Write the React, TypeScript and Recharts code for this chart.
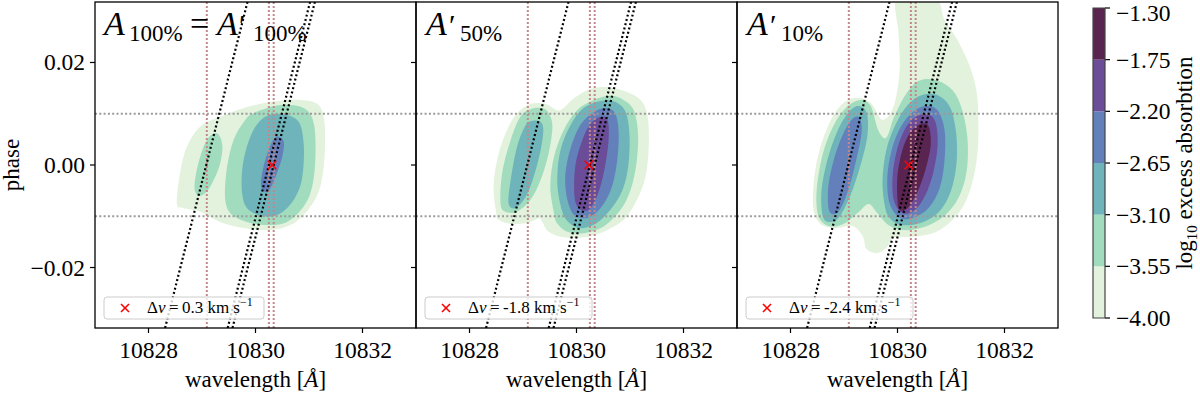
import React from 'react';
import { ScatterChart, Scatter, XAxis, YAxis } from 'recharts';

// colour levels of log10 excess absorption
const levels = [-4.0, -3.55, -3.1, -2.65, -2.2, -1.75, -1.3];
const levelColors = ['#e2f2dd', '#a2dcbf', '#6fb4bb', '#6480bb', '#6a4c98', '#5a2450'];

const xTicks = [10828, 10830, 10832];
const yTicks = [-0.02, 0, 0.02];
const X_DOMAIN: [number, number] = [10827, 10833];
const Y_DOMAIN: [number, number] = [-0.0318, 0.0318];

// He triplet rest wavelengths, transit phase limits, planet tracks
const restLines = [10829.09, 10830.25, 10830.34];
const phaseLines = [-0.01, 0.01];
const trackLow = [10828.31, 10829.48, 10829.57];
const trackHigh = [10829.85, 10831.02, 10831.11];

// per panel
const panelTitles = ['100%', '50%', '10%'];
const markerX = [10830.31, 10830.23, 10830.21];
const deltaV = ['0.3', '-1.8', '-2.4'];

type Pt = [number, number];

// ---- contours (wavelength, phase) ----
const p1Pale: Pt[] = [
  [10828.53, -0.0075], [10828.59, -0.0016], [10828.72, 0.0036], [10828.97, 0.0075], [10829.34, 0.0094],
  [10829.78, 0.0111], [10830.28, 0.0123], [10830.84, 0.0127], [10831.18, 0.0117], [10831.29, 0.0081],
  [10831.29, 0.0016], [10831.21, -0.0042], [10831.03, -0.0081], [10830.71, -0.0114], [10830.28, -0.0127],
  [10829.78, -0.0123], [10829.34, -0.0111], [10828.97, -0.0091], [10828.65, -0.0084],
];
const p1Mint: Pt[] = [
  [10829.78, 0.0084], [10829.96, 0.0101], [10830.46, 0.0117], [10830.9, 0.0111], [10831.09, 0.0081],
  [10831.12, 0.0016], [10831.06, -0.0042], [10830.9, -0.0081], [10830.59, -0.0111], [10830.22, -0.0117],
  [10829.84, -0.0111], [10829.53, -0.0094], [10829.43, -0.0062], [10829.47, -0.0003], [10829.59, 0.0049],
];
const p1MintSide: Pt[] = [
  [10829.28, 0.0062], [10829.38, 0.0039], [10829.34, 0.0003], [10829.22, -0.0029], [10829.09, -0.0052],
  [10828.93, -0.006], [10828.86, -0.0042], [10828.93, 0.0003], [10829.09, 0.0049],
];
const p1Teal: Pt[] = [
  [10830.0, 0.0075], [10830.22, 0.0096], [10830.53, 0.0099], [10830.81, 0.0084], [10830.9, 0.0042],
  [10830.89, -0.001], [10830.81, -0.0049], [10830.62, -0.0081], [10830.37, -0.0099], [10830.09, -0.0099],
  [10829.84, -0.0084], [10829.75, -0.0055], [10829.75, -0.001], [10829.84, 0.0036],
];
const p1Blue: Pt[] = [
  [10830.43, 0.0055], [10830.53, 0.0045], [10830.5, 0.0016], [10830.4, -0.0016], [10830.28, -0.0045],
  [10830.17, -0.0052], [10830.1, -0.0039], [10830.15, -0.0003], [10830.26, 0.0033], [10830.35, 0.0052],
];

const p2Pale: Pt[] = [
  [10828.5, -0.0094], [10828.45, -0.0042], [10828.53, 0.0016], [10828.7, 0.0068], [10828.89, 0.0101],
  [10829.14, 0.0119], [10829.42, 0.0119], [10829.64, 0.0107], [10829.76, 0.0111], [10829.95, 0.013],
  [10830.2, 0.0146], [10830.51, 0.0152], [10830.88, 0.0145], [10831.2, 0.0127], [10831.33, 0.0094],
  [10831.35, 0.0036], [10831.29, -0.0023], [10831.13, -0.0068], [10830.88, -0.0107], [10830.51, -0.013],
  [10830.14, -0.0141], [10829.76, -0.0141], [10829.48, -0.013], [10829.36, -0.0111], [10829.3, -0.0104],
  [10829.08, -0.0113], [10828.77, -0.0115], [10828.55, -0.0107],
];
const p2MintSide: Pt[] = [
  [10828.58, -0.0075], [10828.61, -0.0016], [10828.77, 0.0049], [10828.95, 0.0094], [10829.14, 0.0109],
  [10829.36, 0.0111], [10829.48, 0.0101], [10829.55, 0.0075], [10829.48, 0.0023], [10829.33, -0.0029],
  [10829.14, -0.0068], [10828.89, -0.0091], [10828.67, -0.0091],
];
const p2TealSide: Pt[] = [
  [10828.73, -0.0075], [10828.77, -0.0029], [10828.89, 0.0036], [10829.05, 0.0078], [10829.17, 0.0086],
  [10829.33, 0.0084], [10829.38, 0.0068], [10829.33, 0.0029], [10829.2, -0.0023], [10829.05, -0.0062],
  [10828.86, -0.0084],
];
const p2Mint: Pt[] = [
  [10829.58, -0.0094], [10829.51, -0.0042], [10829.58, 0.0016], [10829.76, 0.0068], [10830.01, 0.0107],
  [10830.32, 0.0127], [10830.64, 0.0135], [10830.88, 0.0127], [10831.07, 0.0107], [10831.15, 0.0062],
  [10831.12, 0.0003], [10831.01, -0.0049], [10830.82, -0.0088], [10830.51, -0.012], [10830.14, -0.0133],
  [10829.83, -0.013], [10829.64, -0.0114],
];
const p2Teal: Pt[] = [
  [10829.7, -0.0078], [10829.64, -0.0029], [10829.7, 0.0029], [10829.89, 0.0078], [10830.13, 0.0111],
  [10830.45, 0.0125], [10830.73, 0.0123], [10830.92, 0.0103], [10830.99, 0.0059], [10830.97, 0.0],
  [10830.86, -0.0049], [10830.63, -0.0088], [10830.35, -0.0115], [10830.04, -0.0123], [10829.81, -0.0107],
];
const p2Blue: Pt[] = [
  [10829.83, -0.0068], [10829.79, -0.002], [10829.89, 0.0033], [10830.07, 0.0078], [10830.32, 0.0103],
  [10830.56, 0.0111], [10830.73, 0.0099], [10830.79, 0.0059], [10830.75, 0.0], [10830.64, -0.0049],
  [10830.45, -0.0084], [10830.21, -0.0103], [10829.96, -0.0098],
];
const p2Purple: Pt[] = [
  [10829.96, -0.0059], [10829.98, 0.0], [10830.11, 0.0049], [10830.26, 0.008], [10830.45, 0.0094],
  [10830.58, 0.0088], [10830.6, 0.0049], [10830.52, -0.001], [10830.39, -0.0059], [10830.22, -0.0088],
  [10830.04, -0.0084],
];

const p3Pale: Pt[] = [
  [10830.0, 0.033], [10830.69, 0.033], [10830.88, 0.0283], [10831.12, 0.0244], [10831.35, 0.0193],
  [10831.48, 0.0142], [10831.51, 0.0088], [10831.5, 0.0029], [10831.42, -0.0025], [10831.27, -0.0072],
  [10831.03, -0.0107], [10830.71, -0.0131], [10830.28, -0.014], [10829.93, -0.0142], [10829.79, -0.0162],
  [10829.61, -0.0172], [10829.42, -0.0164], [10829.35, -0.0139], [10829.16, -0.0119], [10828.84, -0.0123],
  [10828.56, -0.0115], [10828.43, -0.0088], [10828.43, -0.0039], [10828.52, 0.002], [10828.71, 0.0078],
  [10828.93, 0.0115], [10829.21, 0.0131], [10829.5, 0.0121], [10829.72, 0.0088], [10829.93, 0.0115],
  [10830.04, 0.0185], [10830.02, 0.0254],
];
const p3Mint: Pt[] = [
  [10830.15, 0.0137], [10830.39, 0.0164], [10830.71, 0.0166], [10831.03, 0.0146], [10831.21, 0.0107],
  [10831.31, 0.0049], [10831.29, -0.0014], [10831.14, -0.0064], [10830.88, -0.0099], [10830.5, -0.0121],
  [10830.11, -0.0127], [10829.83, -0.0117], [10829.61, -0.0092], [10829.46, -0.0076], [10829.27, -0.0092],
  [10828.99, -0.0115], [10828.71, -0.0119], [10828.52, -0.0099], [10828.49, -0.0049], [10828.6, 0.002],
  [10828.8, 0.0076], [10829.05, 0.0113], [10829.31, 0.0127], [10829.5, 0.0115], [10829.64, 0.0068],
  [10829.79, 0.0053], [10829.93, 0.0092],
];
const p3TealSide: Pt[] = [
  [10828.6, -0.0098], [10828.58, -0.0049], [10828.69, 0.001], [10828.86, 0.0062], [10829.05, 0.0098],
  [10829.25, 0.0115], [10829.42, 0.0103], [10829.44, 0.0059], [10829.31, 0.0], [10829.12, -0.0059],
  [10828.9, -0.0103], [10828.71, -0.0111],
];
const p3BlueSide: Pt[] = [
  [10828.71, -0.0084], [10828.71, -0.0039], [10828.82, 0.0014], [10828.99, 0.0062], [10829.16, 0.009],
  [10829.29, 0.0092], [10829.33, 0.0064], [10829.23, 0.001], [10829.08, -0.0049], [10828.92, -0.0088],
  [10828.79, -0.0096],
];
const p3Teal: Pt[] = [
  [10829.76, -0.0078], [10829.72, -0.0029], [10829.79, 0.0029], [10829.96, 0.0078], [10830.19, 0.0117],
  [10830.47, 0.0137], [10830.77, 0.0135], [10830.99, 0.0111], [10831.1, 0.0059], [10831.1, 0.0],
  [10830.99, -0.0053], [10830.77, -0.0092], [10830.43, -0.0113], [10830.06, -0.0117], [10829.85, -0.0103],
];
const p3Blue: Pt[] = [
  [10829.85, -0.0074], [10829.81, -0.0025], [10829.89, 0.0029], [10830.06, 0.0074], [10830.28, 0.0103],
  [10830.52, 0.0115], [10830.75, 0.0107], [10830.88, 0.0068], [10830.88, 0.001], [10830.79, -0.0045],
  [10830.58, -0.0084], [10830.3, -0.0103], [10830.04, -0.0103],
];
const p3Purple: Pt[] = [
  [10829.93, -0.0068], [10829.91, -0.002], [10830.0, 0.0033], [10830.15, 0.0072], [10830.34, 0.0094],
  [10830.56, 0.0099], [10830.71, 0.0084], [10830.75, 0.0039], [10830.67, -0.0014], [10830.52, -0.0059],
  [10830.32, -0.0088], [10830.09, -0.0094],
];
const p3Dark: Pt[] = [
  [10830.0, -0.0068], [10830.0, -0.002], [10830.09, 0.0029], [10830.24, 0.0064], [10830.43, 0.008],
  [10830.58, 0.0076], [10830.62, 0.0039], [10830.52, -0.001], [10830.37, -0.0053], [10830.19, -0.0084],
  [10830.04, -0.0088],
];

// [level index, polygon]
const panelContours: [number, Pt[]][][] = [
  [[0, p1Pale], [1, p1Mint], [1, p1MintSide], [2, p1Teal], [3, p1Blue]],
  [[0, p2Pale], [1, p2MintSide], [2, p2TealSide], [1, p2Mint], [2, p2Teal], [3, p2Blue], [4, p2Purple]],
  [[0, p3Pale], [1, p3Mint], [2, p3TealSide], [3, p3BlueSide], [2, p3Teal], [3, p3Blue], [4, p3Purple], [5, p3Dark]],
];

const PLOT_W = 321;
const panelLefts = [95, 416, 737];
const FONT = "Liberation Serif, DejaVu Serif, serif";
const TICK_FS = 23.5;

// closed catmull-rom through the scaled points
function smoothClosed(pts: { x: number; y: number }[]) {
  const n = pts.length;
  if (!n) return '';
  let d = `M${pts[0].x},${pts[0].y}`;
  for (let i = 0; i < n; i++) {
    const p0 = pts[(i - 1 + n) % n];
    const p1 = pts[i];
    const p2 = pts[(i + 1) % n];
    const p3 = pts[(i + 2) % n];
    const c1x = p1.x + (p2.x - p0.x) / 6;
    const c1y = p1.y + (p2.y - p0.y) / 6;
    const c2x = p2.x - (p3.x - p1.x) / 6;
    const c2y = p2.y - (p3.y - p1.y) / 6;
    d += `C${c1x},${c1y} ${c2x},${c2y} ${p2.x},${p2.y}`;
  }
  return d + 'Z';
}

function polygon(pts: { x: number; y: number }[]) {
  return pts.map((p, i) => `${i ? 'L' : 'M'}${p.x},${p.y}`).join('') + 'Z';
}

const noDot = () => <g />;

const RedCross = (p: any) => {
  const s = 4.2;
  return (
    <g>
      <line x1={p.cx - s} y1={p.cy - s} x2={p.cx + s} y2={p.cy + s} stroke="#ff0000" strokeWidth={1.6} />
      <line x1={p.cx - s} y1={p.cy + s} x2={p.cx + s} y2={p.cy - s} stroke="#ff0000" strokeWidth={1.6} />
    </g>
  );
};

const minus = (s: string) => s.replace('-', '\u2212');

// serif tick labels
const XTick = (p: any) => (
  <text x={p.x} y={p.y} dy="0.71em" textAnchor="middle" fontSize={TICK_FS} fontFamily={FONT} fill="#000">
    {p.payload.value}
  </text>
);
const YTickLeft = (p: any) => (
  <text x={p.x} y={p.y} dy="0.34em" textAnchor="end" fontSize={TICK_FS} fontFamily={FONT} fill="#000">
    {minus(Number(p.payload.value).toFixed(2))}
  </text>
);
// top label nudged down so it stays inside the page
const YTickRight = (p: any) => (
  <text x={p.x} y={Math.max(p.y, 13)} dy="0.34em" textAnchor="start" fontSize={TICK_FS} fontFamily={FONT} fill="#000">
    {minus(Number(p.payload.value).toFixed(2))}
  </text>
);

function Panel({ index }: { index: number }) {
  const yw = index === 0 ? 95 : 10;
  const left = panelLefts[index] - yw;
  const dotted = { strokeWidth: 2.2, strokeDasharray: '2 2.4' };
  return (
    <div style={{ position: 'absolute', left, top: 0 }}>
      <ScatterChart width={yw + PLOT_W + 5} height={394} margin={{ top: 2, right: 5, bottom: 0, left: 0 }}>
        <XAxis
          type="number"
          dataKey="x"
          domain={X_DOMAIN}
          ticks={xTicks}
          allowDataOverflow
          axisLine={false}
          height={66}
          tickSize={5}
          tickMargin={8}
          tickLine={{ stroke: '#000', strokeWidth: 1.2 }}
          tick={<XTick />}
        />
        <YAxis
          type="number"
          dataKey="y"
          domain={Y_DOMAIN}
          ticks={yTicks}
          allowDataOverflow
          axisLine={false}
          width={yw}
          tickSize={5}
          tickMargin={5}
          tickLine={{ stroke: '#000', strokeWidth: 1.2 }}
          tick={index === 0 ? <YTickLeft /> : () => <g />}
        />
        {panelContours[index].map(([lv, pts], i) => (
          <Scatter
            key={`c${i}`}
            data={pts.map(([x, y]) => ({ x, y }))}
            shape={noDot}
            isAnimationActive={false}
            line={(lp: any) => <path d={smoothClosed(lp.points)} fill={levelColors[lv]} stroke="none" />}
          />
        ))}
        {restLines.map((w, i) => (
          <Scatter
            key={`r${i}`}
            data={[{ x: w, y: Y_DOMAIN[0] }, { x: w, y: Y_DOMAIN[1] }]}
            shape={noDot}
            isAnimationActive={false}
            line={{ stroke: '#c4878a', strokeWidth: 2, strokeDasharray: '2 2' }}
          />
        ))}
        {phaseLines.map((ph, i) => (
          <Scatter
            key={`h${i}`}
            data={[{ x: X_DOMAIN[0], y: ph }, { x: X_DOMAIN[1], y: ph }]}
            shape={noDot}
            isAnimationActive={false}
            line={{ stroke: '#9a9a9a', strokeWidth: 2, strokeDasharray: '2 2.3' }}
          />
        ))}
        {trackLow.map((w, i) => (
          <Scatter
            key={`t${i}`}
            data={[{ x: w, y: Y_DOMAIN[0] }, { x: trackHigh[i], y: Y_DOMAIN[1] }]}
            shape={noDot}
            isAnimationActive={false}
            line={{ stroke: '#000', ...dotted }}
          />
        ))}
        <Scatter data={[{ x: markerX[index], y: 0 }]} shape={RedCross} isAnimationActive={false} />
      </ScatterChart>
    </div>
  );
}

function ColorBar() {
  return (
    <div style={{ position: 'absolute', left: 1085, top: 0 }}>
      <ScatterChart width={115} height={394} margin={{ top: 8, right: 0, bottom: 76, left: 8 }}>
        <XAxis type="number" dataKey="x" domain={[0, 1]} hide />
        <YAxis
          type="number"
          dataKey="y"
          orientation="right"
          domain={[levels[0], levels[levels.length - 1]]}
          ticks={levels}
          width={95}
          axisLine={false}
          tickSize={5}
          tickMargin={6}
          tickLine={{ stroke: '#000', strokeWidth: 1.2 }}
          tick={<YTickRight />}
        />
        {levelColors.map((c, i) => (
          <Scatter
            key={i}
            data={[
              { x: 0, y: levels[i] },
              { x: 1, y: levels[i] },
              { x: 1, y: levels[i + 1] },
              { x: 0, y: levels[i + 1] },
            ]}
            shape={noDot}
            isAnimationActive={false}
            line={(lp: any) => <path d={polygon(lp.points)} fill={c} stroke="none" />}
          />
        ))}
        <Scatter
          data={[
            { x: 0, y: levels[0] },
            { x: 1, y: levels[0] },
            { x: 1, y: levels[levels.length - 1] },
            { x: 0, y: levels[levels.length - 1] },
          ]}
          shape={noDot}
          isAnimationActive={false}
          line={(lp: any) => <path d={polygon(lp.points)} fill="none" stroke="#444" strokeWidth={1.2} />}
        />
      </ScatterChart>
    </div>
  );
}

function Title({ index }: { index: number }) {
  const x0 = panelLefts[index] + 10;
  if (index === 0) {
    return (
      <g>
        <text x={x0 - 1} y={35} fontSize={34} fontStyle="italic">A</text>
        <text x={x0 + 24} y={41} fontSize={23}>{panelTitles[0]}</text>
        <text x={x0 + 85} y={35} fontSize={34}>=</text>
        <text x={x0 + 112} y={35} fontSize={34} fontStyle="italic">A</text>
        <text x={x0 + 134} y={35} fontSize={30}>{'\u2032'}</text>
        <text x={x0 + 148} y={41} fontSize={23}>{panelTitles[0]}</text>
      </g>
    );
  }
  return (
    <g>
      <text x={x0} y={35} fontSize={34} fontStyle="italic">A</text>
      <text x={x0 + 23} y={35} fontSize={30}>{'\u2032'}</text>
      <text x={x0 + 34} y={41} fontSize={23}>{panelTitles[index]}</text>
    </g>
  );
}

function LegendBox({ index }: { index: number }) {
  const bx = panelLefts[index] + 9;
  const w = index === 0 ? 160 : 167;
  return (
    <g>
      <rect x={bx} y={297} width={w} height={22} rx={3} fill="#fff" fillOpacity={0.8} stroke="#cccccc" strokeWidth={1} />
      <line x1={bx + 17} y1={304} x2={bx + 25} y2={312} stroke="#ff0000" strokeWidth={1.6} />
      <line x1={bx + 17} y1={312} x2={bx + 25} y2={304} stroke="#ff0000" strokeWidth={1.6} />
      <text x={bx + 43} y={313} fontSize={17}>
        {'\u0394'}
        <tspan fontStyle="italic">v</tspan>
        {`\u2009=\u2009${deltaV[index]} km s`}
        <tspan fontSize={12} dy={-7}>{'\u22121'}</tspan>
      </text>
    </g>
  );
}

export default function App() {
  return (
    <div style={{ position: 'absolute', left: 0, top: 0, width: 1200, height: 394, background: '#fff', fontFamily: FONT, overflow: 'hidden' }}>
      {[0, 1, 2].map((i) => (
        <Panel key={i} index={i} />
      ))}
      <ColorBar />
      <svg width={1200} height={394} fontFamily={FONT} style={{ position: 'absolute', left: 0, top: 0, pointerEvents: 'none' }}>
        {panelLefts.map((l, i) => (
          <g key={i}>
            <rect x={l} y={2} width={PLOT_W} height={326} fill="none" stroke="#000" strokeWidth={1.3} />
            <Title index={i} />
            <LegendBox index={i} />
            <text x={l + PLOT_W / 2} y={387} fontSize={23} textAnchor="middle">
              wavelength [<tspan fontStyle="italic">{'\u00c5'}</tspan>]
            </text>
          </g>
        ))}
        <text x={19} y={165} fontSize={23} textAnchor="middle" transform="rotate(-90 19 165)">phase</text>
        <text x={1192} y={163} fontSize={23} textAnchor="middle" transform="rotate(-90 1192 163)">
          log<tspan fontSize={15} dy={5}>10</tspan>
          <tspan dy={-5}> excess absorbtion</tspan>
        </text>
      </svg>
    </div>
  );
}
